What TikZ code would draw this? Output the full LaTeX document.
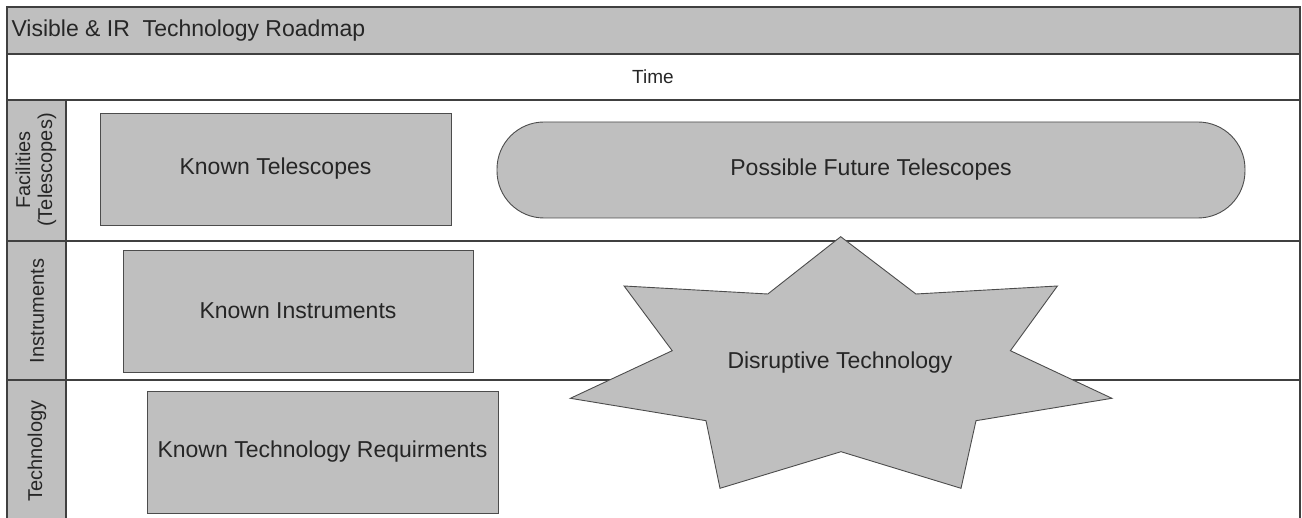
\documentclass[tikz,border=0pt]{standalone}
\usepackage{fontspec}
\setmainfont{Liberation Sans}
\begin{document}
\begin{tikzpicture}[x=1pt,y=-1pt,
  frameline/.style={draw=black!75,line width=1.3pt},
  band/.style={fill=black!25},
  item/.style={draw=black!70,line width=0.9pt,fill=black!25},
  bigtext/.style={font=\fontsize{23}{27}\selectfont,text=black!85},
  lanetext/.style={font=\fontsize{20}{23}\selectfont,text=black!85,rotate=90,align=center},
]
\useasboundingbox (0,0) rectangle (1302,518);
% grey bands: title strip and lane-label column
\fill[band] (7,7) rectangle (1300,54);
\fill[band] (7,100) rectangle (66,520);
% frame and lane dividers
\draw[frameline] (7,520) -- (7,7) -- (1300,7) -- (1300,520);
\draw[frameline] (7,54) -- (1300,54);
\draw[frameline] (7,100) -- (1300,100);
\draw[frameline] (7,241) -- (1300,241);
\draw[frameline] (7,380) -- (1300,380);
\draw[frameline] (66,100) -- (66,520);
% headings
\node[bigtext,anchor=west] (title) at (8,31) {Visible \& IR\ \ Technology Roadmap};
\node[font=\fontsize{19}{22}\selectfont,text=black!85] (time) at (653,77) {Time};
\node[lanetext] (lanefac) at (36,170) {Facilities\\[-1pt](Telescopes)};
\node[lanetext] (laneins) at (37,311) {Instruments};
\node[lanetext] (lanetech) at (37,451) {Technology};
% known items
\node[item,bigtext,minimum width=351pt,minimum height=112pt] (ktel) at (275.5,169) {Known Telescopes};
\node[item,bigtext,minimum width=350pt,minimum height=122pt] (kins) at (298,311) {Known Instruments};
\node[item,bigtext,minimum width=351pt,minimum height=122pt] (ktech) at (322.5,452) {Known Technology Requirments};
% future telescopes (stadium)
\node[item,bigtext,rounded corners=47pt,minimum width=748pt,minimum height=96pt] (ftel) at (871,170) {Possible Future Telescopes};
% disruptive technology burst
\draw[item,line join=miter] (840.7,236.7) -- (915.9,294) -- (1057.4,286) -- (1010.4,350.7)
  -- (1111.9,398.3) -- (976,420.7) -- (961,488.3) -- (841,451.7) -- (720,488.3)
  -- (706,420.7) -- (570.4,398.3) -- (672.2,350.7) -- (624.1,286) -- (767.8,294) -- cycle;
\node[bigtext] (disrupt) at (840,363) {Disruptive Technology};
\end{tikzpicture}
\end{document}
